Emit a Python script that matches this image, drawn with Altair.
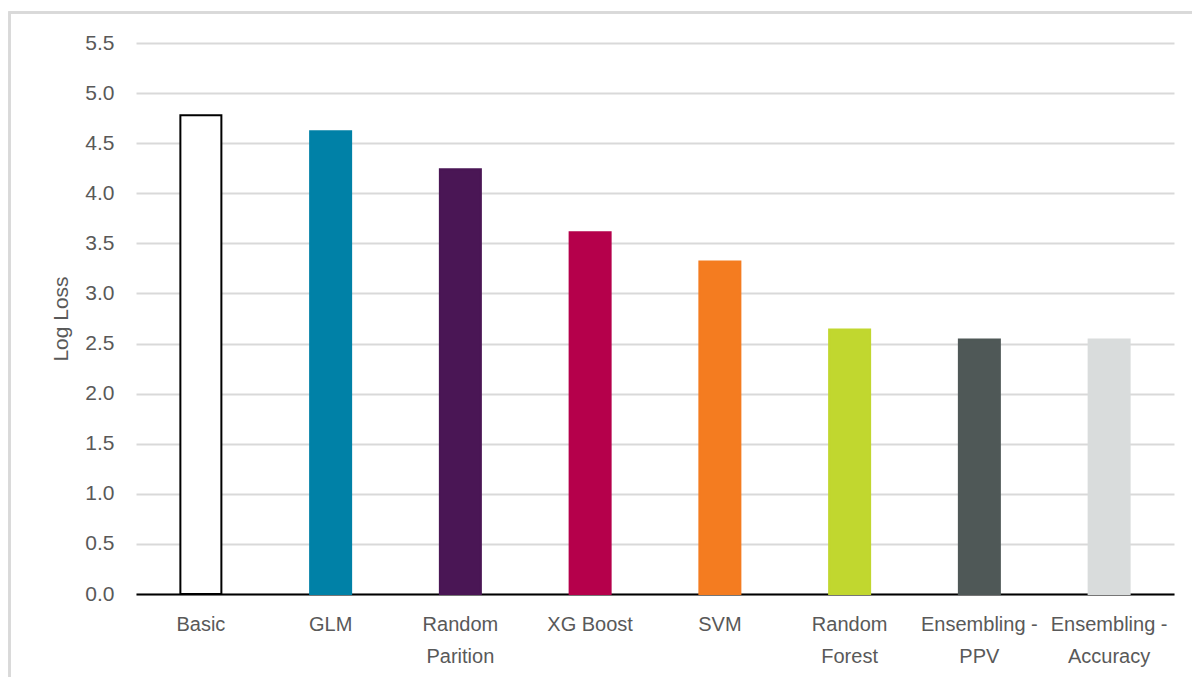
import altair as alt
import pandas as pd

# Model names (line breaks mark where the axis label wraps)
models = [
    "Basic",
    "GLM",
    "Random\nParition",
    "XG Boost",
    "SVM",
    "Random\nForest",
    "Ensembling -\nPPV",
    "Ensembling -\nAccuracy",
]
log_loss = [4.78, 4.62, 4.24, 3.61, 3.32, 2.64, 2.54, 2.54]
fills = ["#FFFFFF", "#0081A7", "#4A1655", "#B5004B", "#F47C20", "#C1D72F", "#4F5857", "#D9DCDC"]
strokes = ["#000000", "#0081A7", "#4A1655", "#B5004B", "#F47C20", "#C1D72F", "#4F5857", "#D9DCDC"]
y_ticks = [0, 0.5, 1.0, 1.5, 2.0, 2.5, 3.0, 3.5, 4.0, 4.5, 5.0, 5.5]

df = pd.DataFrame({"model": models, "loss": log_loss, "fill": fills, "stroke": strokes})

FONT = "Liberation Sans"
TEXT = "#595959"
W, H = 1038, 551

x_enc = alt.X(
    "model:N",
    sort=models,
    scale=alt.Scale(paddingInner=0.684, paddingOuter=0.342),
    axis=alt.Axis(
        title=None,
        labelAngle=0,
        labelExpr="split(datum.value, '\\n')",
        labelFont=FONT,
        labelFontSize=20,
        labelColor=TEXT,
        labelLineHeight=32,
        labelPadding=20,
        ticks=False,
        domainColor="#000000",
        domainWidth=2,
        grid=False,
    ),
)

y_enc = alt.Y(
    "loss:Q",
    scale=alt.Scale(domain=[0, 5.5], nice=False),
    axis=alt.Axis(
        title="Log Loss",
        titleFont=FONT,
        titleFontSize=21,
        titleFontWeight="normal",
        titleColor=TEXT,
        titlePadding=13,
        values=y_ticks,
        format=".1f",
        labelFont=FONT,
        labelFontSize=21,
        labelColor=TEXT,
        labelPadding=22,
        ticks=False,
        domain=False,
        gridColor="#D9D9D9",
        gridWidth=2,
    ),
)

bars = alt.Chart(df).mark_bar(strokeWidth=2).encode(
    x=x_enc,
    y=y_enc,
    fill=alt.Fill("fill:N", scale=None),
    stroke=alt.Stroke("stroke:N", scale=None),
)

# light frame around the whole chart area
frame = alt.Chart(df).mark_rect(fill=None, stroke="#D9D9D9", strokeWidth=2).encode(
    x=alt.value(-126.5),
    x2=alt.value(1100),
    y=alt.value(-30.5),
    y2=alt.value(700),
)

chart = (
    alt.layer(frame, bars)
    .properties(
        width=W,
        height=H,
        autosize=alt.AutoSizeParams(type="none"),
        padding={"left": 136, "top": 43, "right": 18, "bottom": 83},
        background="#FFFFFF",
    )
    .configure_view(stroke=None)
)

chart.save("out.html", embed_options={"renderer": "svg", "actions": False})
